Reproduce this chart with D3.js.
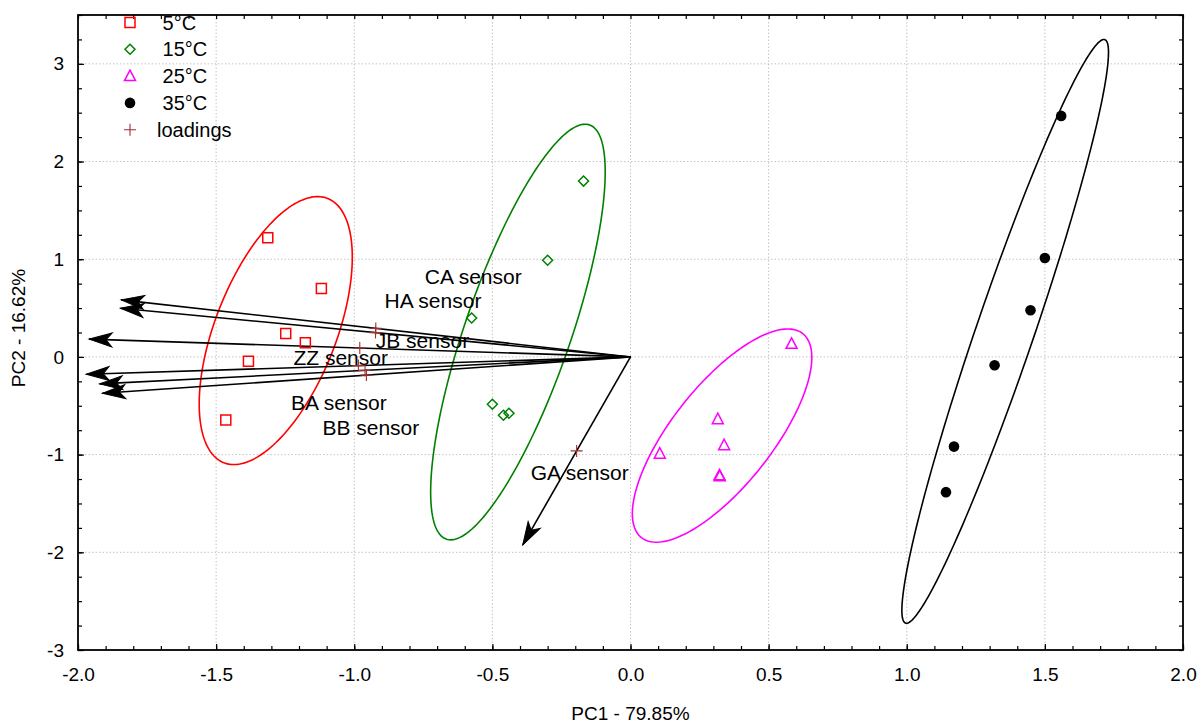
<!DOCTYPE html>
<html>
<head>
<meta charset="utf-8">
<script src="https://cdn.jsdelivr.net/npm/d3@7"></script>
<style>
  body { margin: 0; background: #fff; }
  text { font-family: "Liberation Sans", Arial, sans-serif; fill: #000; }
</style>
</head>
<body>
<svg id="chart" width="1200" height="724"></svg>
<script>
// scores (PC1, PC2) per temperature group
const scores5 = [[-1.313, 1.221], [-1.119, 0.700], [-1.248, 0.241], [-1.177, 0.145], [-1.383, -0.045], [-1.465, -0.645]];
const scores15 = [[-0.170, 1.800], [-0.300, 0.990], [-0.575, 0.399], [-0.500, -0.485], [-0.460, -0.597], [-0.440, -0.577]];
const scores25 = [[0.583, 0.134], [0.316, -0.637], [0.339, -0.904], [0.106, -0.990], [0.322, -1.212], [0.323, -1.222]];
const scores35 = [[1.559, 2.467], [1.500, 1.012], [1.448, 0.478], [1.318, -0.086], [1.171, -0.918], [1.142, -1.384]];
const groupNames = ["5°C", "15°C", "25°C", "35°C"];

// loadings
const sensorNames = ["CA sensor", "HA sensor", "JB sensor", "ZZ sensor", "BA sensor", "BB sensor", "GA sensor"];
const loadPC1 = [-0.922, -0.923, -0.980, -0.985, -0.961, -0.956, -0.195];
const loadPC2 = [0.292, 0.249, 0.091, -0.089, -0.138, -0.186, -0.962];

const xTicks = [-2.0, -1.5, -1.0, -0.5, 0.0, 0.5, 1.0, 1.5, 2.0];
const yTicks = [-3, -2, -1, 0, 1, 2, 3];

// styling
const colors = ["#ff0000", "#008000", "#ff00ff", "#000000"];
const loadColor = "#a03030";
const arrowScale = 2;
const labelOffsets = [[49, -52], [9, -32], [16, -8], [-65, -8], [-74, 32], [-44, 52], [-46, 22]];
const ellipseK = Math.sqrt(-2 * Math.log(1 - 0.90));

const svg = d3.select("#chart");
const x = d3.scaleLinear().domain([-2, 2]).range([78, 1183]);
const y = d3.scaleLinear().domain([-3, 3.5]).range([650, 15]);

// grid
svg.append("g").selectAll("line").data(xTicks.slice(1, -1)).enter().append("line")
    .attr("x1", d => x(d)).attr("x2", d => x(d)).attr("y1", y(3.5)).attr("y2", y(-3))
    .attr("stroke", "#c4c4c4").attr("stroke-dasharray", "1.5,2");
svg.append("g").selectAll("line").data(yTicks.slice(1)).enter().append("line")
    .attr("y1", d => y(d)).attr("y2", d => y(d)).attr("x1", x(-2)).attr("x2", x(2))
    .attr("stroke", "#c4c4c4").attr("stroke-dasharray", "1.5,2");

// axes
const xMinor = d3.range(-20, 21).map(i => i / 10);
const yMinor = d3.range(-12, 15).map(i => i / 4);

function cleanAxis(g) { g.select(".domain").remove(); g.selectAll(".tick line").attr("stroke", "#000").attr("stroke-width", 1.2); }

svg.append("g").attr("transform", "translate(0," + y(-3) + ")")
    .call(d3.axisBottom(x).tickValues(xMinor).tickSize(-4).tickFormat("")).call(cleanAxis);
svg.append("g").attr("transform", "translate(0," + y(3.5) + ")")
    .call(d3.axisTop(x).tickValues(xMinor).tickSize(-4).tickFormat("")).call(cleanAxis);
svg.append("g").attr("transform", "translate(" + x(-2) + ",0)")
    .call(d3.axisLeft(y).tickValues(yMinor).tickSize(-4).tickFormat("")).call(cleanAxis);
svg.append("g").attr("transform", "translate(" + x(2) + ",0)")
    .call(d3.axisRight(y).tickValues(yMinor).tickSize(-4).tickFormat("")).call(cleanAxis);

const xAxis = svg.append("g").attr("transform", "translate(0," + y(-3) + ")")
    .call(d3.axisBottom(x).tickValues(xTicks).tickSize(-6).tickPadding(18).tickFormat(d => d.toFixed(1)))
    .call(cleanAxis);
xAxis.selectAll("text").attr("font-size", 19).attr("font-family", "Liberation Sans, Arial");

const yAxis = svg.append("g").attr("transform", "translate(" + x(-2) + ",0)")
    .call(d3.axisLeft(y).tickValues(yTicks).tickSize(-6).tickPadding(14).tickFormat(d => String(d)))
    .call(cleanAxis);
yAxis.selectAll("text").attr("font-size", 19).attr("font-family", "Liberation Sans, Arial");

svg.append("rect").attr("x", x(-2)).attr("y", y(3.5)).attr("width", x(2) - x(-2)).attr("height", y(-3) - y(3.5))
    .attr("fill", "none").attr("stroke", "#000").attr("stroke-width", 1.8);

svg.append("text").attr("x", (x(-2) + x(2)) / 2).attr("y", 720).attr("text-anchor", "middle")
    .attr("font-size", 19).text("PC1 - 79.85%");
svg.append("text").attr("transform", "translate(25,328) rotate(-90)").attr("text-anchor", "middle")
    .attr("font-size", 19).text("PC2 - 16.62%");

// ellipses
function ellipsePoints(pts) {
    const n = pts.length;
    const mx = d3.mean(pts, d => d[0]), my = d3.mean(pts, d => d[1]);
    const sxx = d3.sum(pts, d => (d[0] - mx) ** 2) / (n - 1);
    const syy = d3.sum(pts, d => (d[1] - my) ** 2) / (n - 1);
    const sxy = d3.sum(pts, d => (d[0] - mx) * (d[1] - my)) / (n - 1);
    const a = Math.sqrt(sxx), b = sxy / a, c = Math.sqrt(syy - b * b);
    return d3.range(0, 361, 2).map(deg => {
        const t = deg * Math.PI / 180;
        return [mx + ellipseK * a * Math.cos(t), my + ellipseK * (b * Math.cos(t) + c * Math.sin(t))];
    });
}
const line = d3.line().x(d => x(d[0])).y(d => y(d[1])).curve(d3.curveLinearClosed);
const allScores = [scores5, scores15, scores25, scores35];
allScores.forEach(function (pts, i) {
    svg.append("path").attr("d", line(ellipsePoints(pts))).attr("fill", "none")
        .attr("stroke", colors[i]).attr("stroke-width", 1.6);
});

// arrows
const origin = [x(0), y(0)];
sensorNames.forEach(function (name, i) {
    const tx = x(loadPC1[i] * arrowScale), ty = y(loadPC2[i] * arrowScale);
    svg.append("line").attr("x1", origin[0]).attr("y1", origin[1]).attr("x2", tx).attr("y2", ty)
        .attr("stroke", "#000").attr("stroke-width", 1.6);
    const ang = Math.atan2(ty - origin[1], tx - origin[0]) * 180 / Math.PI;
    svg.append("path").attr("d", "M0,0 L-23,-7 L-17,0 L-23,7 Z")
        .attr("transform", "translate(" + tx + "," + ty + ") rotate(" + ang + ")")
        .attr("fill", "#000").attr("stroke", "#000").attr("stroke-width", 1);
});

// loading markers + labels
const crossPath = "M-6,0 H6 M0,-6 V6";
sensorNames.forEach(function (name, i) {
    const px = x(loadPC1[i]), py = y(loadPC2[i]);
    svg.append("path").attr("d", crossPath).attr("transform", "translate(" + px + "," + py + ")")
        .attr("stroke", loadColor).attr("stroke-width", 1.1).attr("fill", "none");
    svg.append("text").attr("x", px + labelOffsets[i][0]).attr("y", py + labelOffsets[i][1] + 7.5)
        .attr("font-size", 21).text(name);
});

// score markers
const shapes = [
    "M-5,-5 H5 V5 H-5 Z",
    "M0,-5 L5,0 L0,5 L-5,0 Z",
    "M0,-6 L5.5,4.5 L-5.5,4.5 Z",
    null
];
function drawMarker(g, i, cx, cy) {
    if (shapes[i]) {
        g.append("path").attr("d", shapes[i]).attr("transform", "translate(" + cx + "," + cy + ")")
            .attr("fill", "none").attr("stroke", colors[i]).attr("stroke-width", 1.5);
    } else {
        g.append("circle").attr("cx", cx).attr("cy", cy).attr("r", 5.3).attr("fill", colors[i]);
    }
}
allScores.forEach(function (pts, i) {
    pts.forEach(function (d) { drawMarker(svg, i, x(d[0]), y(d[1])); });
});

// legend
const legend = svg.append("g");
groupNames.forEach(function (name, i) {
    const ly = 22.5 + i * 26.8;
    drawMarker(legend, i, 130, ly);
    legend.append("text").attr("x", 157).attr("y", ly + 7).attr("font-size", 20)
        .attr("xml:space", "preserve").style("white-space", "pre").text(" " + name);
});
legend.append("path").attr("d", crossPath).attr("transform", "translate(130," + (22.5 + 4 * 26.8) + ")")
    .attr("stroke", loadColor).attr("stroke-width", 1.1).attr("fill", "none");
legend.append("text").attr("x", 157).attr("y", 22.5 + 4 * 26.8 + 7).attr("font-size", 20).text("loadings");
</script>
</body>
</html>
